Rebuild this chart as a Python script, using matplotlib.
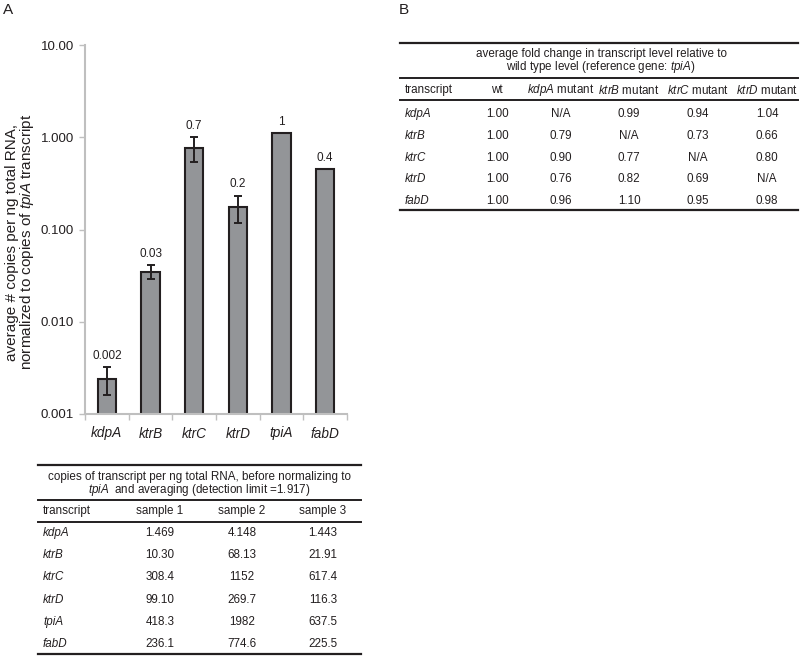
import matplotlib
matplotlib.use("Agg")
import matplotlib.pyplot as plt
from matplotlib.lines import Line2D
import numpy as np

plt.rcParams['font.family'] = ['Liberation Sans', 'DejaVu Sans']
plt.rcParams['mathtext.fontset'] = 'custom'
plt.rcParams['mathtext.rm'] = 'Liberation Sans'
plt.rcParams['mathtext.it'] = 'Liberation Sans:italic'

# ---------------- data ----------------
genes = ["kdpA", "ktrB", "ktrC", "ktrD", "tpiA", "fabD"]
values = [0.0024, 0.035, 0.77, 0.175, 1.11, 0.45]
errors = [0.0008, 0.006, 0.23, 0.057, 0.0, 0.0]
value_labels = ["0.002", "0.03", "0.7", "0.2", "1", "0.4"]
y_ticks = [0.001, 0.01, 0.1, 1, 10]
y_tick_labels = ["0.001", "0.010", "0.100", "1.000", "10.00"]

tableA_title = ["copies of transcript per ng total RNA, before normalizing to",
                r"$\it{tpiA}$  and averaging (detection limit =1.917)"]
tableA_cols = ["transcript", "sample 1", "sample 2", "sample 3"]
tableA_rows = ["kdpA", "ktrB", "ktrC", "ktrD", "tpiA", "fabD"]
sample1 = ["1.469", "10.30", "308.4", "99.10", "418.3", "236.1"]
sample2 = ["4.148", "68.13", "1152", "269.7", "1982", "774.6"]
sample3 = ["1.443", "21.91", "617.4", "116.3", "637.5", "225.5"]

tableB_title = ["average fold change in transcript level relative to",
                r"wild type level (reference gene: $\it{tpiA}$)"]
tableB_cols = ["transcript", "wt", r"$\it{kdpA}$ mutant", r"$\it{ktrB}$ mutant",
               r"$\it{ktrC}$ mutant", r"$\it{ktrD}$ mutant"]
tableB_rows = ["kdpA", "ktrB", "ktrC", "ktrD", "fabD"]
wt = ["1.00", "1.00", "1.00", "1.00", "1.00"]
kdpA_mut = ["N/A", "0.79", "0.90", "0.76", "0.96"]
ktrB_mut = ["0.99", "N/A", "0.77", "0.82", "1.10"]
ktrC_mut = ["0.94", "0.73", "N/A", "0.69", "0.95"]
ktrD_mut = ["1.04", "0.66", "0.80", "N/A", "0.98"]

# ---------------- figure ----------------
W, H = 800, 656
fig = plt.figure(figsize=(W / 100, H / 100), dpi=100)
dark = "#231f20"
TFS = 8.4

def fx(x):
    return x / W

def fy(y):
    return 1 - y / H

ax = fig.add_axes([fx(85), fy(414), (347 - 85) / W, (414 - 45) / H])
x = np.arange(len(genes))
ax.bar(x, values, width=0.42, color="#939598", edgecolor=dark, linewidth=1.5, zorder=2)
err_idx = [i for i, e in enumerate(errors) if e > 0]
ax.errorbar([x[i] for i in err_idx], [values[i] for i in err_idx],
            yerr=[errors[i] for i in err_idx], fmt="none", ecolor=dark,
            elinewidth=1.4, capsize=3, capthick=1.4, zorder=3)
for i, lab in enumerate(value_labels):
    ax.annotate(lab, (x[i], values[i] + errors[i]), xytext=(0, 4),
                textcoords="offset points", ha="center", va="bottom",
                fontsize=8.5, color=dark)

ax.set_yscale("log")
ax.set_ylim(0.001, 10)
ax.set_xlim(-0.5, len(genes) - 0.5)
ax.yaxis.set_major_locator(matplotlib.ticker.FixedLocator(y_ticks))
ax.yaxis.set_major_formatter(matplotlib.ticker.FixedFormatter(y_tick_labels))
ax.yaxis.set_minor_locator(matplotlib.ticker.NullLocator())
ax.set_xticks(x)
ax.set_xticklabels(genes, fontstyle="italic", fontsize=9.8, color=dark)
ax.set_xticks(np.arange(-0.5, len(genes), 1.0), minor=True)
ax.tick_params(axis="x", which="major", length=0, pad=9)
ax.tick_params(axis="x", which="minor", length=4, color="#bfbfbf", width=1)
ax.tick_params(axis="y", which="major", length=4, color="#bfbfbf", width=1,
               labelsize=9.5, labelcolor=dark, pad=4)
for s in ["top", "right"]:
    ax.spines[s].set_visible(False)
for s in ["left", "bottom"]:
    ax.spines[s].set_color("#bfbfbf")
    ax.spines[s].set_linewidth(1.5)
ylab = ax.set_ylabel("average # copies per ng total RNA,\nnormalized to copies of $\\it{tpiA}$ transcript",
                     fontsize=11, color=dark, linespacing=0.95)
ylab.set_verticalalignment("center")
ax.yaxis.set_label_coords((20.5 - 85) / 262, 0.466)

# panel labels
fig.text(fx(3), fy(14), "A", fontsize=11, color=dark, ha="left", va="baseline")
fig.text(fx(399), fy(14), "B", fontsize=11, color=dark, ha="left", va="baseline")

def hline(x0, x1, y, lw):
    fig.add_artist(Line2D([fx(x0), fx(x1)], [fy(y), fy(y)], color=dark,
                          linewidth=lw, transform=fig.transFigure))

def txt(xp, yp, s, ha="center", italic=False):
    fig.text(fx(xp), fy(yp), s, ha=ha, va="center", fontsize=TFS, color=dark,
             fontstyle="italic" if italic else "normal")

# ---------------- table A ----------------
ax0, ax1 = 38, 361
hline(ax0, ax1, 465, 1.6)
txt((ax0 + ax1) / 2, 477, tableA_title[0])
txt((ax0 + ax1) / 2, 490, tableA_title[1])
hline(ax0, ax1, 500, 1.4)
colsA = [43, 160, 242, 323]
for j, c in enumerate(tableA_cols):
    txt(colsA[j], 511, c, ha="left" if j == 0 else "center")
hline(ax0, ax1, 522, 1.4)
for i, r in enumerate(tableA_rows):
    yp = 533 + i * 22.2
    txt(colsA[0], yp, r, ha="left", italic=True)
    for j, col in enumerate([sample1, sample2, sample3]):
        txt(colsA[j + 1], yp, col[i])
hline(ax0, ax1, 654, 1.6)

# ---------------- table B ----------------
bx0, bx1 = 400, 798
hline(bx0, bx1, 43, 1.6)
txt((bx0 + bx1) / 2 + 2, 54, tableB_title[0])
txt((bx0 + bx1) / 2 + 2, 67, tableB_title[1])
hline(bx0, bx1, 78, 1.4)
colsB = [405, 497, 561, 629, 698, 767]
for j, c in enumerate(tableB_cols):
    txt(colsB[j], 90, c, ha="left" if j == 0 else "center")
hline(bx0, bx1, 100, 1.4)
for i, r in enumerate(tableB_rows):
    yp = 114 + i * 21.8
    txt(colsB[0], yp, r, ha="left", italic=True)
    for j, col in enumerate([wt, kdpA_mut, ktrB_mut, ktrC_mut, ktrD_mut]):
        txt(colsB[j + 1], yp, col[i])
hline(bx0, bx1, 210, 1.6)

fig.savefig("out.png", dpi=100, facecolor="white")
